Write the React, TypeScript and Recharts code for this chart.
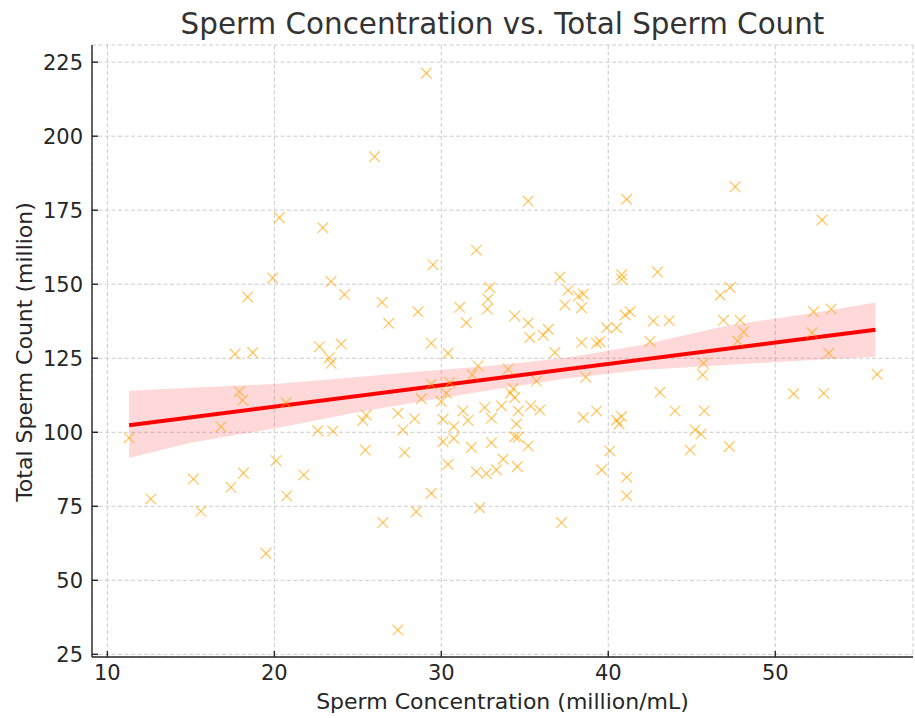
import React from 'react'
import { ComposedChart, Scatter, Line, Area, XAxis, YAxis, CartesianGrid } from 'recharts'

// sperm concentration (million/mL) per sample
const concentration = [
  11.3, 12.6, 15.15, 15.6, 16.8, 17.4, 17.65, 17.9, 18.1, 18.15, 18.4, 18.7, 19.5, 19.9, 20.1, 20.3, 20.7, 20.74,
  21.76, 22.6, 22.7, 22.9, 23.3, 23.4, 23.4, 23.5, 24.0, 24.2, 25.3, 25.5, 25.45, 26.0, 26.45, 26.5, 26.85,
  29.1, 35.2, 41.1, 32.1, 29.5, 37.1, 40.8, 40.8, 42.95, 32.9, 37.6, 38.2, 38.5, 31.1, 32.8, 32.75, 37.4, 38.4,
  28.6, 31.5, 34.4, 35.2, 35.3, 36.1, 36.4, 38.4, 39.3, 39.5, 39.9, 40.5, 41.0, 41.3, 42.7, 43.65, 42.5, 29.4,
  30.4, 36.8, 32.2, 31.85, 34.0, 35.7, 38.65, 29.4, 30.5, 30.3, 28.8, 30.0, 34.15, 34.3, 34.4, 30.1, 31.3, 31.6,
  32.6, 33.0, 33.6, 34.6, 34.5, 35.35, 35.9, 38.5, 39.3, 40.5, 40.8, 40.65, 30.1, 30.75, 30.75, 31.8, 33.0, 34.4,
  34.6, 35.2, 30.4, 33.7, 32.1, 32.7, 33.3, 34.55, 29.4, 28.5, 32.3, 37.2, 40.1, 39.6, 41.1, 41.1, 27.4, 27.4,
  28.4, 27.7, 27.8,
  53.2, 45.7, 45.65, 56.1, 51.1, 52.9, 45.75, 45.2, 45.55, 44.9, 47.25, 43.1, 44.0,
  47.6, 52.8, 46.7, 47.3, 46.9, 47.9, 48.1, 47.75, 52.3, 53.35, 52.2,
]

// total sperm count (million) per sample, same order
const totalCount = [
  98.1, 77.5, 84.2, 73.3, 101.9, 81.4, 126.4, 113.7, 110.8, 86.2, 145.7, 126.9, 59.1, 152.1, 90.4, 172.5, 110, 78.5,
  85.6, 100.5, 128.9, 169.1, 125.2, 123.3, 150.9, 100.4, 129.8, 146.5, 104, 105.8, 94, 193.1, 143.9, 69.5, 136.8,
  221.3, 178.1, 178.7, 161.5, 156.6, 152.4, 153.2, 151.7, 154.1, 148.9, 148, 146, 146.7, 142.2, 144.9, 141.6, 143, 142.1,
  140.7, 137, 139.3, 136.9, 132, 132.8, 134.8, 130.3, 130.1, 130.6, 135.3, 135.3, 139.6, 140.7, 137.6, 137.7, 130.7, 130.1,
  126.7, 126.9, 122.4, 119.4, 121.3, 117.3, 118.6, 116.2, 116.8, 113.2, 111.3, 110.4, 113.2, 114.8, 111.7, 104.4, 107.2, 104,
  108.4, 104.7, 108.9, 107.2, 102.8, 108.9, 107.5, 105, 107.2, 104.1, 105.3, 102.8, 96.8, 101.9, 97.9, 94.9, 96.5, 98.5,
  98.3, 95.4, 89.2, 90.9, 86.7, 86.1, 87.3, 88.4, 79.4, 73.2, 74.5, 69.5, 93.7, 87.3, 84.8, 78.6, 33.2, 106.4,
  104.6, 100.8, 93.2,
  126.7, 123.3, 119.4, 119.6, 113, 113.2, 107.2, 100.8, 99.4, 94, 95.2, 113.5, 107.2,
  182.9, 171.7, 146.3, 148.9, 137.8, 137.8, 133.9, 130.8, 140.7, 141.6, 133.6,
]

// regression fit end points
const fitX = [11.3, 56]
const fitY = [102.4, 134.6]

// confidence band
const bandX = [11.3, 15, 20, 25, 28.7, 33, 37.5, 42, 47, 52, 56]
const bandLow = [91.3, 96.5, 101.3, 106.8, 110.3, 114.3, 118.2, 121, 122.7, 124.3, 125.5]
const bandHigh = [114, 115, 116.3, 118.7, 120.5, 122.5, 125.2, 129.5, 135.9, 140, 143.8]

const xTicks = [10, 20, 30, 40, 50]
const yTicks = [25, 50, 75, 100, 125, 150, 175, 200, 225]

const points = concentration.map((x, i) => ({ x, y: totalCount[i] }))
const fit = fitX.map((x, i) => ({ x, fit: fitY[i] }))
const band = bandX.map((x, i) => ({ x, band: [bandLow[i], bandHigh[i]] }))

const font = 'DejaVu Sans, sans-serif'
const ink = '#262626'

function XMark(props: any) {
  const { cx, cy } = props
  if (cx == null || cy == null) return null
  const r = 5.3
  return (
    <g stroke="#FFA500" strokeOpacity={0.6} strokeWidth={1.3}>
      <line x1={cx - r} y1={cy - r} x2={cx + r} y2={cy + r} />
      <line x1={cx - r} y1={cy + r} x2={cx + r} y2={cy - r} />
    </g>
  )
}

export default function App() {
  const tick = { fill: ink, fontSize: 21, fontFamily: font }
  return (
    <div style={{ position: 'absolute', left: 0, top: 0, width: 915, height: 718, background: '#fff' }}>
      <ComposedChart width={915} height={718} margin={{ top: 45, right: 2, bottom: 0, left: 0 }}>
        <CartesianGrid stroke="#cccccc" strokeDasharray="4 2.5" />
        <XAxis
          dataKey="x"
          type="number"
          domain={[9.08, 58.25]}
          allowDataOverflow
          ticks={xTicks}
          height={61}
          stroke={ink}
          strokeWidth={1.4}
          tickSize={-6}
          tickMargin={14}
          tick={tick}
        />
        <YAxis
          type="number"
          domain={[24.1, 230.8]}
          allowDataOverflow
          ticks={yTicks}
          width={92}
          stroke={ink}
          strokeWidth={1.4}
          tickSize={-6}
          tickMargin={15}
          tick={tick}
        />
        <Scatter data={points} dataKey="y" shape={<XMark />} isAnimationActive={false} />
        <Area data={band} dataKey="band" type="linear" stroke="none" fill="#ff0000" fillOpacity={0.15} isAnimationActive={false} />
        <Line data={fit} dataKey="fit" type="linear" stroke="#ff0000" strokeWidth={4} dot={false} isAnimationActive={false} />
      </ComposedChart>
      <svg width={915} height={718} style={{ position: 'absolute', left: 0, top: 0, pointerEvents: 'none' }}>
        <text x={502.5} y={33.5} textAnchor="middle" fontSize={29.4} fontFamily={font} fill="#333">
          Sperm Concentration vs. Total Sperm Count
        </text>
        <text x={502.5} y={709} textAnchor="middle" fontSize={22} fontFamily={font} fill={ink}>
          Sperm Concentration (million/mL)
        </text>
        <text x={32} y={352} textAnchor="middle" fontSize={22} fontFamily={font} fill={ink} transform="rotate(-90 32 352)">
          Total Sperm Count (million)
        </text>
      </svg>
    </div>
  )
}
